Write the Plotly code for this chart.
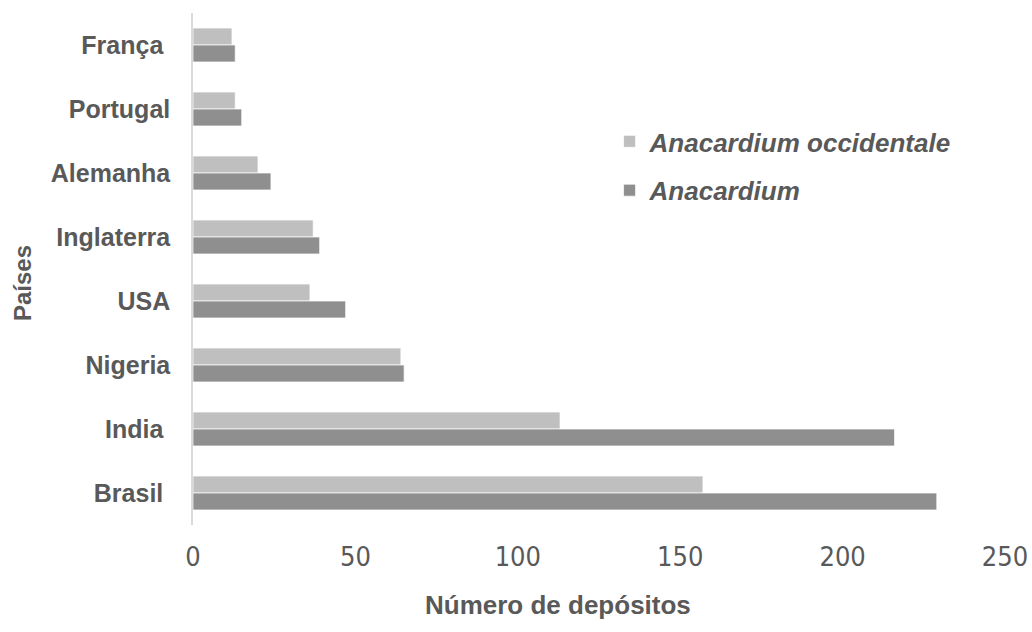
import plotly.graph_objects as go

# Countries, listed from top to bottom
paises = ["França", "Portugal", "Alemanha", "Inglaterra", "USA", "Nigeria", "India", "Brasil"]
# Label text (a few names carry a trailing space)
rotulos = ["França\u00a0", "Portugal", "Alemanha", "Inglaterra", "USA", "Nigeria", "India\u00a0", "Brasil\u00a0"]

# Number of deposits per country
anacardium_occidentale = [12, 13, 20, 37, 36, 64, 113, 157]
anacardium = [13, 15, 24, 39, 47, 65, 216, 229]

x_ticks = [0, 50, 100, 150, 200, 250]

TEXT = "#595959"
BOLD = "Liberation Sans, Arial, sans-serif"
NARROW = "Liberation Sans Narrow, Arial Narrow, DejaVu Sans Condensed, sans-serif"

fig = go.Figure()
fig.add_trace(go.Bar(
    y=paises, x=anacardium_occidentale, orientation="h",
    name="<b><i>Anacardium occidentale</i></b>", legendgroup="a",
    marker=dict(color="#bfbfbf", line=dict(color="rgba(255,255,255,0.7)", width=1)),
))
fig.add_trace(go.Bar(
    y=paises, x=anacardium, orientation="h",
    name="<b><i>Anacardium</i></b>", legendgroup="b",
    marker=dict(color="#8f8f8f", line=dict(color="rgba(255,255,255,0.7)", width=1)),
))

fig.update_layout(
    width=1032, height=632,
    margin=dict(l=193, r=27, t=13, b=107),
    paper_bgcolor="white", plot_bgcolor="white",
    barmode="group", bargap=0.47, bargroupgap=0,
    font=dict(family=BOLD, color=TEXT),
    legend=dict(
        x=0.513, y=0.795, xanchor="left", yanchor="top",
        font=dict(size=26, color=TEXT, family=BOLD),
        traceorder="grouped", tracegroupgap=12,
        bgcolor="rgba(0,0,0,0)", itemwidth=30,
    ),
    xaxis=dict(
        range=[0, 250], tickvals=x_ticks, showgrid=False, zeroline=False,
        showline=False, ticks="", ticklabelstandoff=13, automargin=False,
        tickfont=dict(family=NARROW, size=27, color=TEXT),
    ),
    yaxis=dict(
        autorange="reversed", showgrid=False, zeroline=False,
        showline=True, linecolor="#d9d9d9", linewidth=1.5, ticks="",
        tickvals=paises, ticktext=["<b>" + r + "</b>" for r in rotulos],
        ticklabelstandoff=16, automargin=False,
        tickfont=dict(family=BOLD, size=25, color=TEXT),
    ),
    annotations=[
        dict(text="<b>Número de depósitos</b>", xref="paper", yref="paper",
             x=(558 - 193) / 812, y=-(605 - 525) / 512, xanchor="center", yanchor="middle",
             showarrow=False, font=dict(family=BOLD, size=26, color=TEXT)),
        dict(text="<b>Países</b>", xref="paper", yref="paper",
             x=-(193 - 22) / 812, y=(525 - 283) / 512, xanchor="center", yanchor="middle",
             textangle=-90, showarrow=False, font=dict(family=BOLD, size=24, color=TEXT)),
    ],
)

fig.write_html("out.html")
